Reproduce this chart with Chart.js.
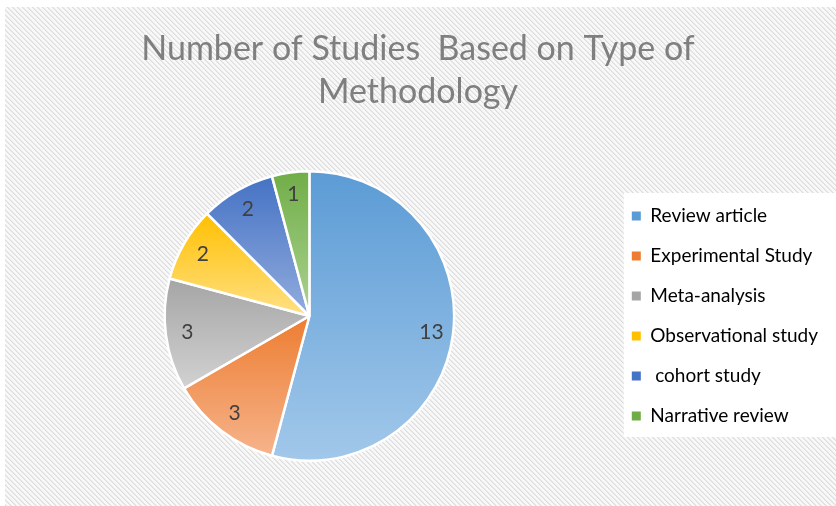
<!DOCTYPE html>
<html>
<head>
<meta charset="utf-8">
<script src="https://cdn.jsdelivr.net/npm/chart.js@4.4.0/dist/chart.umd.min.js"></script>
<style>
  html, body { margin: 0; padding: 0; background: #ffffff; }
  canvas { display: block; }
</style>
</head>
<body>
<canvas id="c" width="836" height="506"></canvas>
<script>
// ---- data ----
const titleLines = ["Number of Studies  Based on Type of", "Methodology"];
const categories = ["Review article", "Experimental Study", "Meta-analysis", "Observational study", " cohort study", "Narrative review"];
const studyCounts = [13, 3, 3, 2, 2, 1];
const baseColors  = ["#5b9bd5", "#ed7d31", "#a5a5a5", "#ffc000", "#4472c4", "#70ad47"];
const lightColors = ["#a2c8ea", "#f6b48c", "#d2d2d2", "#ffe085", "#93acdd", "#acd392"];

// per-slice vertical gradient (dark at top, light at bottom)
function sliceGradient(context) {
  const chart = context.chart;
  const i = context.dataIndex;
  const area = chart.chartArea;
  if (!area || i === undefined) return baseColors[i] || "#999";
  const cx = (area.left + area.right) / 2, cy = (area.top + area.bottom) / 2;
  const r = Math.min(area.width, area.height) / 2;
  const total = studyCounts.reduce((a, b) => a + b, 0);
  let before = 0;
  for (let k = 0; k < i; k++) before += studyCounts[k];
  const a0 = -Math.PI / 2 + before / total * 2 * Math.PI;
  const a1 = a0 + studyCounts[i] / total * 2 * Math.PI;
  let ys = [cy, cy + r * Math.sin(a0), cy + r * Math.sin(a1)];
  for (const ext of [Math.PI / 2, -Math.PI / 2, 3 * Math.PI / 2]) {
    if (ext > a0 && ext < a1) ys.push(cy + r * Math.sin(ext));
  }
  const y0 = Math.min(...ys), y1 = Math.max(...ys);
  const g = chart.ctx.createLinearGradient(0, y0, 0, y1);
  g.addColorStop(0, baseColors[i]);
  g.addColorStop(1, lightColors[i]);
  return g;
}

const backgroundPlugin = {
  id: "bgPattern",
  beforeDraw(chart) {
    const ctx = chart.ctx;
    const pc = document.createElement("canvas");
    pc.width = 5; pc.height = 5;
    const p = pc.getContext("2d");
    p.fillStyle = "#f8f8f8";
    p.fillRect(0, 0, 5, 5);
    for (let y = 0; y < 5; y++) {
      for (let x = 0; x < 5; x++) {
        const d = ((x - y) % 5 + 5) % 5;
        if (d === 0) { p.fillStyle = "#dcdcdc"; p.fillRect(x, y, 1, 1); }
        else if (d === 1) { p.fillStyle = "#eaeaea"; p.fillRect(x, y, 1, 1); }
      }
    }
    ctx.save();
    ctx.fillStyle = "#ffffff";
    ctx.fillRect(0, 0, chart.width, chart.height);
    ctx.fillStyle = ctx.createPattern(pc, "repeat");
    ctx.fillRect(5, 7, chart.width - 5, chart.height - 7);
    const lg = chart.legend;
    if (lg) {
      ctx.fillStyle = "#ffffff";
      ctx.fillRect(lg.left + 13, lg.top + 23, chart.width - lg.left - 13, lg.bottom - lg.top - 48);
    }
    ctx.restore();
  }
};

const valueLabelPlugin = {
  id: "valueLabels",
  afterDatasetsDraw(chart) {
    const ctx = chart.ctx;
    const meta = chart.getDatasetMeta(0);
    ctx.save();
    ctx.fillStyle = "#404040";
    ctx.font = "21px Lato";
    ctx.textAlign = "center";
    ctx.textBaseline = "middle";
    meta.data.forEach((arc, i) => {
      const { x, y, startAngle, endAngle, outerRadius } = arc.getProps(["x", "y", "startAngle", "endAngle", "outerRadius"], true);
      const mid = (startAngle + endAngle) / 2;
      const rr = outerRadius * 0.85;
      ctx.fillText(String(chart.data.datasets[0].data[i]), x + Math.cos(mid) * rr, y + Math.sin(mid) * rr);
    });
    ctx.restore();
  }
};

new Chart(document.getElementById("c"), {
  type: "pie",
  data: {
    labels: categories,
    datasets: [{
      data: studyCounts,
      backgroundColor: sliceGradient,
      borderColor: "#ffffff",
      borderWidth: 2.5
    }]
  },
  options: {
    responsive: false,
    animation: false,
    devicePixelRatio: 1,
    layout: { padding: { left: 8, right: 8, top: 0, bottom: 44 } },
    plugins: {
      title: {
        display: true,
        text: titleLines,
        color: "#7f7f7f",
        font: { family: "Lato", size: 34, weight: "normal", lineHeight: 1.25 },
        padding: { top: 28, bottom: 57 }
      },
      legend: {
        position: "right",
        align: "center",
        fullSize: false,
        labels: {
          boxWidth: 9,
          boxHeight: 9,
          padding: 21,
          color: "#595959",
          font: { family: "Lato", size: 19 },
          generateLabels: (chart) => categories.map((t, i) => ({
            text: t, fillStyle: baseColors[i], strokeStyle: baseColors[i],
            lineWidth: 0, hidden: false, index: i
          }))
        }
      },
      tooltip: { enabled: false }
    }
  },
  plugins: [backgroundPlugin, valueLabelPlugin]
});
</script>
</body>
</html>
